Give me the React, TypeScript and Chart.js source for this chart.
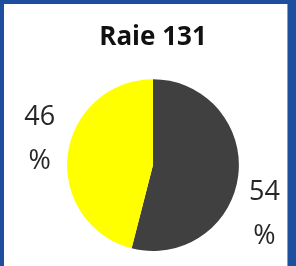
import { useEffect, useRef } from 'react';
import { Chart, registerables } from 'chart.js';

Chart.register(...registerables);

// ---- data ----
const titleText = 'Raie 131';
const categories = ['Gris', 'Jaune'];
const values = [54, 46];
const sliceColors = ['#404040', '#FFFF00'];
const labelSuffix = '%';

// label placement around the pie (angle clockwise from top in degrees, distance as radius factor)
const labelPlacement = [
  { angle: 113.7, dist: 1.416 },
  { angle: 282.7, dist: 1.352 },
];
const labelLineGap = 44;

const sliceLabelPlugin = {
  id: 'sliceLabels',
  afterDatasetsDraw(chart: any) {
    const meta = chart.getDatasetMeta(0);
    const ctx = chart.ctx as CanvasRenderingContext2D;
    ctx.save();
    ctx.font = '27px "Open Sans"';
    ctx.fillStyle = '#262626';
    ctx.textAlign = 'center';
    ctx.textBaseline = 'middle';
    meta.data.forEach((arc: any, i: number) => {
      const { x, y, outerRadius } = arc.getProps(['x', 'y', 'outerRadius'], true);
      const p = labelPlacement[i];
      const th = (p.angle * Math.PI) / 180;
      const cx = x + Math.sin(th) * outerRadius * p.dist;
      const cy = y - Math.cos(th) * outerRadius * p.dist;
      const lines = [String(values[i]), labelSuffix];
      lines.forEach((l, k) => {
        ctx.fillText(l, cx, cy + (k - (lines.length - 1) / 2) * labelLineGap);
      });
    });
    ctx.restore();
  },
};

export default function App() {
  const ref = useRef<HTMLCanvasElement>(null);

  useEffect(() => {
    document.body.style.margin = '0';
    if (!ref.current) return;
    const chart = new Chart(ref.current, {
      type: 'pie',
      data: {
        labels: categories,
        datasets: [
          {
            data: values,
            backgroundColor: sliceColors,
            borderWidth: 0,
          },
        ],
      },
      options: {
        responsive: false,
        animation: false,
        layout: { padding: { top: 16, left: 63, right: 48, bottom: 15 } },
        plugins: {
          legend: { display: false },
          tooltip: { enabled: false },
          title: {
            display: true,
            text: titleText,
            color: '#111111',
            font: { family: '"Open Sans"', size: 26, weight: 'bold' },
            padding: { top: 2, bottom: 26 },
          },
        },
      },
      plugins: [sliceLabelPlugin],
    });
    return () => chart.destroy();
  }, []);

  return (
    <div
      style={{
        position: 'absolute',
        left: 0,
        top: 0,
        width: 296,
        height: 266,
        background: '#1E4F9F',
        overflow: 'hidden',
      }}
    >
      <div
        style={{
          position: 'absolute',
          left: 4,
          top: 4,
          width: 283,
          height: 262,
          background: '#ffffff',
          borderRight: '1px solid #9a9a9a',
        }}
      >
        <canvas ref={ref} width={283} height={262} style={{ display: 'block' }} />
      </div>
    </div>
  );
}
